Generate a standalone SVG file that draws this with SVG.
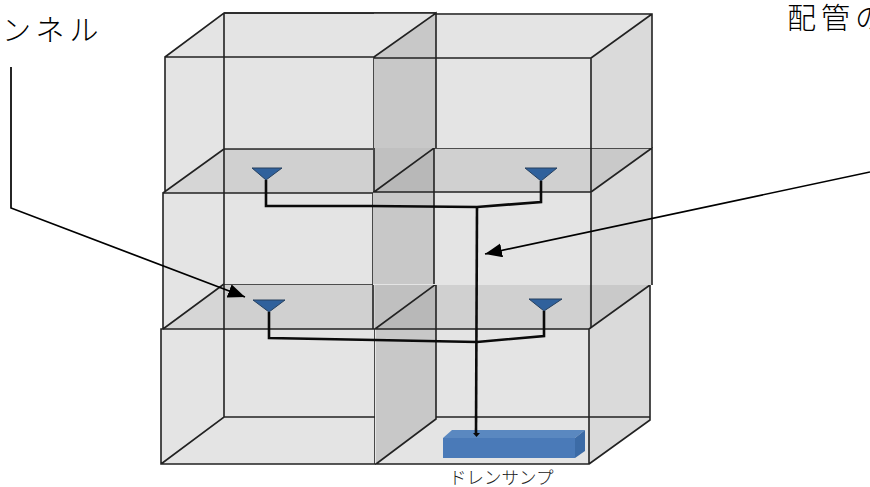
<svg xmlns="http://www.w3.org/2000/svg" width="870" height="487" viewBox="0 0 870 487">
<style>
.e{stroke:#222;stroke-width:1.6;fill:none}
.back{fill:#e4e4e4}
.side{fill:#dadada}
.shade{fill:#c8c8c8}
.floor{fill:#d0d0d0}
.tri{fill:#d6d6d6}
.up{fill:#c0c0c0}
.dark{fill:#b8b8b8}
.rt{fill:#c9c9c9}
.pipe{stroke:#0a0a0a;stroke-width:2.6;fill:none}
.lead{stroke:#000;stroke-width:1.7;fill:none}
.funnel{fill:#30619c;stroke:#26405f;stroke-width:1}
.jp{font-family:"Liberation Serif","Noto Sans CJK JP",serif;font-size:29px;font-weight:300;fill:#000;letter-spacing:5px}
</style>
<defs>
<marker id="ah" markerUnits="userSpaceOnUse" markerWidth="20" markerHeight="16" refX="17" refY="7" orient="auto"><path d="M0 0L17 7L0 14Z" fill="#000"/></marker>
</defs>
<g id="room-bottom-left">
<path class="back" d="M161 329L224 284H375V464H161Z"/>
<path class="tri" d="M161 329L224 284V329Z"/>
<path class="floor" d="M224 284H375V329H224Z"/>
<path class="e" d="M161 329H375V464H161ZM224 284H375M161 464L224 417H375M224 284V417"/>
</g>
<g id="room-bottom-right">
<path class="back" d="M375 284H650V420L589 464H375Z"/>
<path class="side" d="M589 329L650 285V420L589 464Z"/>
<path class="floor" d="M436 284H589V329H436Z"/>
<path class="rt" d="M589 329L650 285H589Z"/>
<path class="shade" d="M376 329H436V419L376 464Z"/>
<path class="dark" d="M376 329L436 285V329Z"/>
<path class="up" d="M375 329L436 285H375Z"/>
<path class="e" d="M375 329H589V464H375M375 329L436 284H650V420L589 464M436 284V419L376 464M436 417H650M589 329L650 285"/>
</g>
<g id="room-middle-left">
<path class="back" d="M163 193L224 149H373V284H224L163 329Z"/>
<path class="tri" d="M163 193L224 149V193Z"/>
<path class="floor" d="M224 149H374V193H224Z"/>
<path class="e" d="M163 329V193H373V329M224 149H374M224 149V284M163 329L224 284"/>
</g>
<g id="room-middle-right">
<path class="back" d="M373 148H652V285H373Z"/>
<path class="side" d="M591 192H652V285H591Z"/>
<path class="shade" d="M373 192H434V284H373Z"/>
<path class="floor" d="M434 148H591V192H434Z"/>
<path class="up" d="M374 192L434 148H374Z"/>
<path class="dark" d="M374 192L434 148V192Z"/>
<path class="rt" d="M591 192L652 148H591Z"/>
<path class="side" d="M591 192L652 148V192Z"/>
<path class="e" d="M373 192H591V328M434 148H652V285M591 192L652 148M374 192L434 148V284"/>
</g>
<g id="room-top-left">
<path class="back" d="M165 57L224 13H374V148H224L165 193Z"/>
<path class="e" d="M165 193V57H374V192M165 57L224 13H436M224 13V149M163 193L224 149"/>
</g>
<g id="room-top-right">
<path class="back" d="M374 13H652V148H374Z"/>
<path class="side" d="M591 58L652 14V148H591Z"/>
<path class="shade" d="M374 58L436 13V148H374Z"/>
<path class="e" d="M374 58H591V192M224 13H436M436 14H652V148M591 58L652 14M374 57L436 13V148"/>
</g>
<g id="sump">
<path d="M443 438L452 430H585L575 438Z" fill="#5a88c0"/>
<path d="M575 438L585 430V451L575 458Z" fill="#3c6ba6"/>
<rect x="443" y="438" width="132" height="20" fill="#4a7ab8"/>
</g>
<g id="funnels">
<path class="funnel" d="M252 168H282L266 180Z"/>
<path class="funnel" d="M525 168H557L541 181Z"/>
<path class="funnel" d="M253 300H285L269 312Z"/>
<path class="funnel" d="M529 299H562L544 311Z"/>
</g>
<g id="connectors">
<path class="pipe" d="M266 180V206L370 206L477 207L541 202V181"/>
<path class="pipe" d="M269 312V338L375 340L477 342L544 336V311"/>
<path class="pipe" d="M477 207L476 434"/>
<path d="M473 433H480L476.500 437Z" fill="#0a0a0a"/>
<path class="lead" d="M11 67V208L245 297" marker-end="url(#ah)"/>
<path class="lead" d="M870 172L485 254" marker-end="url(#ah)"/>
</g>
<g id="labels">
<text class="jp" x="2" y="41">ンネル</text>
<text class="jp" x="787" y="29">配管の</text>
<text x="449" y="484" font-family="'Noto Sans CJK JP','Liberation Sans',sans-serif" font-size="17.500" font-weight="300" fill="#222">ドレンサンプ</text>
</g>
</svg>
